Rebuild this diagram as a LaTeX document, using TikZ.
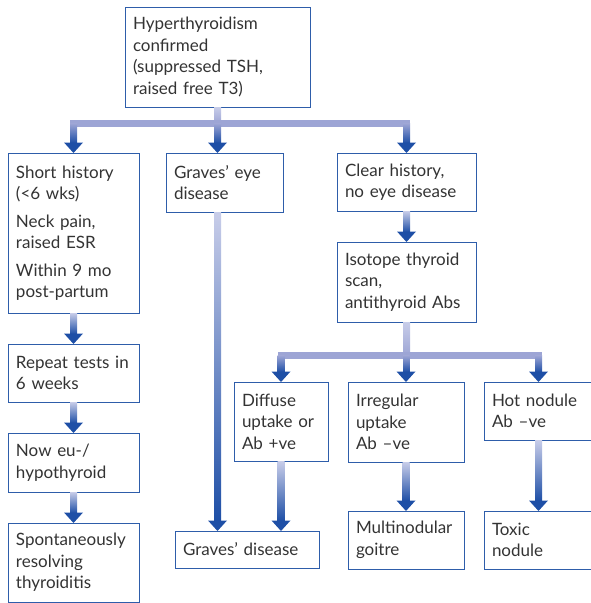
\documentclass[tikz,border=0pt]{standalone}
\usepackage{fontspec}
\setmainfont{Lato}
\usetikzlibrary{calc}
\definecolor{cLight}{HTML}{C8CDE9}
\definecolor{cMid}{HTML}{9DA5D5}
\definecolor{cDark}{HTML}{1E4FA6}
\definecolor{cBorder}{HTML}{2E5DAA}
\definecolor{cText}{HTML}{333333}
\newcommand\mkbox[6]{\node[box, text width=#4, minimum height=#5] (#1) at (#2,#3) {#6};}
% gradient arrow: start coordinate, tip coordinate, top colour
\newcommand\garrow[3]{%
  \shade[top color=#3, bottom color=cDark] ($(#1)+(-3.5,0)$) rectangle ($(#2)+(3.5,-10)$);
  \fill[cDark] ($(#2)+(-9.5,-10.5)$) -- ($(#2)+(9.5,-10.5)$) -- (#2) -- cycle;}
\begin{document}
\begin{tikzpicture}[x=1pt,y=-1pt,
  box/.style={draw=cBorder, line width=0.9pt, anchor=north west, align=left,
    inner xsep=8pt, inner ysep=0pt, outer sep=0pt, text=cText,
    font=\fontsize{17}{21.5}\selectfont}]
\clip (0,0) rectangle (591,603);
% boxes
\mkbox{top}{125}{7}{169pt}{100pt}{Hyperthyroidism\\confirmed\\(suppressed TSH,\\raised free T3)}
\mkbox{short}{8}{153}{115pt}{160pt}{Short history\\(<6 wks)\\[6pt]Neck pain,\\raised ESR\\[6pt]Within 9 mo\\post-partum}
\mkbox{eye}{166}{153}{101pt}{59pt}{Graves’ eye\\disease}
\mkbox{clear}{337}{153}{123pt}{58pt}{Clear history,\\no eye disease}
\mkbox{iso}{337}{242}{123pt}{80pt}{Isotope thyroid\\scan,\\antithyroid Abs}
\mkbox{repeat}{8}{344}{115pt}{58pt}{Repeat tests in\\6 weeks}
\mkbox{noweu}{8}{433}{115pt}{59pt}{Now eu-/\\hypothyroid}
\mkbox{spont}{8}{523}{115pt}{79pt}{Spontaneously\\resolving\\thyroiditis}
\mkbox{diffuse}{234}{382}{78pt}{79pt}{Diffuse\\uptake or\\Ab +ve}
\mkbox{irreg}{348}{382}{100pt}{80pt}{Irregular\\uptake\\Ab –ve}
\mkbox{hot}{484}{382}{93pt}{58pt}{Hot nodule\\Ab –ve}
\mkbox{multi}{348}{511}{100pt}{58pt}{Multinodular\\goitre}
\mkbox{toxic}{484}{511}{93pt}{58pt}{Toxic\\nodule}
\mkbox{graves}{175}{531}{128pt}{37pt}{Graves’ disease}
% first fork
\coordinate (j1) at ($(top.south)+(0,16.5)$);
\coordinate (j1a) at (short.north |- j1);
\coordinate (j1c) at (clear.north |- j1);
\coordinate (eyein) at (top.south |- eye.north);
\shade[top color=cLight, bottom color=cMid] ($(top.south)+(-3.5,0)$) rectangle ($(j1)+(3.5,0)$);
\draw[line width=7pt, cMid, line cap=rect] (j1a) -- (j1c);
\garrow{j1a}{short.north}{cMid}
\garrow{j1}{eyein}{cMid}
\garrow{j1c}{clear.north}{cMid}
% left column
\garrow{short.south}{repeat.north}{cLight}
\garrow{repeat.south}{noweu.north}{cLight}
\garrow{noweu.south}{spont.north}{cLight}
% Graves' eye to Graves' disease
\coordinate (eyeout) at (top.south |- eye.south);
\coordinate (gin1) at (top.south |- graves.north);
\garrow{eyeout}{gin1}{cLight}
% right column
\garrow{clear.south}{iso.north}{cLight}
\coordinate (j2) at ($(iso.south)+(0,33.5)$);
\coordinate (j2a) at (diffuse.north |- j2);
\coordinate (j2c) at (hot.north |- j2);
\shade[top color=cLight, bottom color=cMid] ($(iso.south)+(-3.5,0)$) rectangle ($(j2)+(3.5,0)$);
\draw[line width=7pt, cMid, line cap=rect] (j2a) -- (j2c);
\garrow{j2a}{diffuse.north}{cMid}
\garrow{j2}{irreg.north}{cMid}
\garrow{j2c}{hot.north}{cMid}
\coordinate (gin2) at (diffuse.south |- graves.north);
\garrow{diffuse.south}{gin2}{cLight}
\garrow{irreg.south}{multi.north}{cLight}
\garrow{hot.south}{toxic.north}{cLight}
\end{tikzpicture}
\end{document}
